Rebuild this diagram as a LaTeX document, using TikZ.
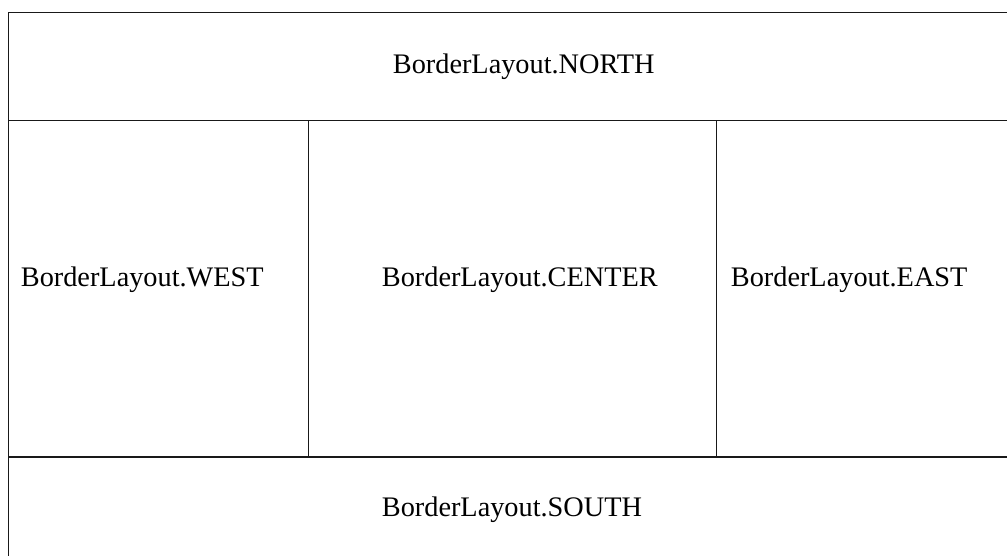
\documentclass[tikz,border=0pt]{standalone}
\usepackage{fontspec}
\setmainfont{Liberation Serif}
\tikzset{
  frameline/.style={line width=1.5pt, draw=black!90},
  lbl/.style={anchor=base west, inner sep=0pt, font=\fontsize{28.3}{34}\selectfont}
}
\begin{document}
\begin{tikzpicture}[x=1pt,y=-1pt]
\useasboundingbox (0,0) rectangle (1007,556);
% frame
\draw[frameline] (8.5,556) -- (8.5,12.5) -- (1007,12.5);
\draw[frameline] (8.5,120.5) -- (1007,120.5);
\draw[frameline] (8.5,457) -- (1007,457);
\draw[frameline] (308.7,120.5) -- (308.7,457);
\draw[frameline] (716.7,120.5) -- (716.7,457);
% labels
\node[lbl] (north) at (392.7,73.3) {BorderLayout.NORTH};
\node[lbl] (west) at (20.7,286.7) {BorderLayout.WEST};
\node[lbl] (center) at (381.7,286.7) {BorderLayout.CENTER};
\node[lbl] (east) at (730.7,286.7) {BorderLayout.EAST};
\node[lbl] (south) at (381.7,516.7) {BorderLayout.SOUTH};
\end{tikzpicture}
\end{document}
